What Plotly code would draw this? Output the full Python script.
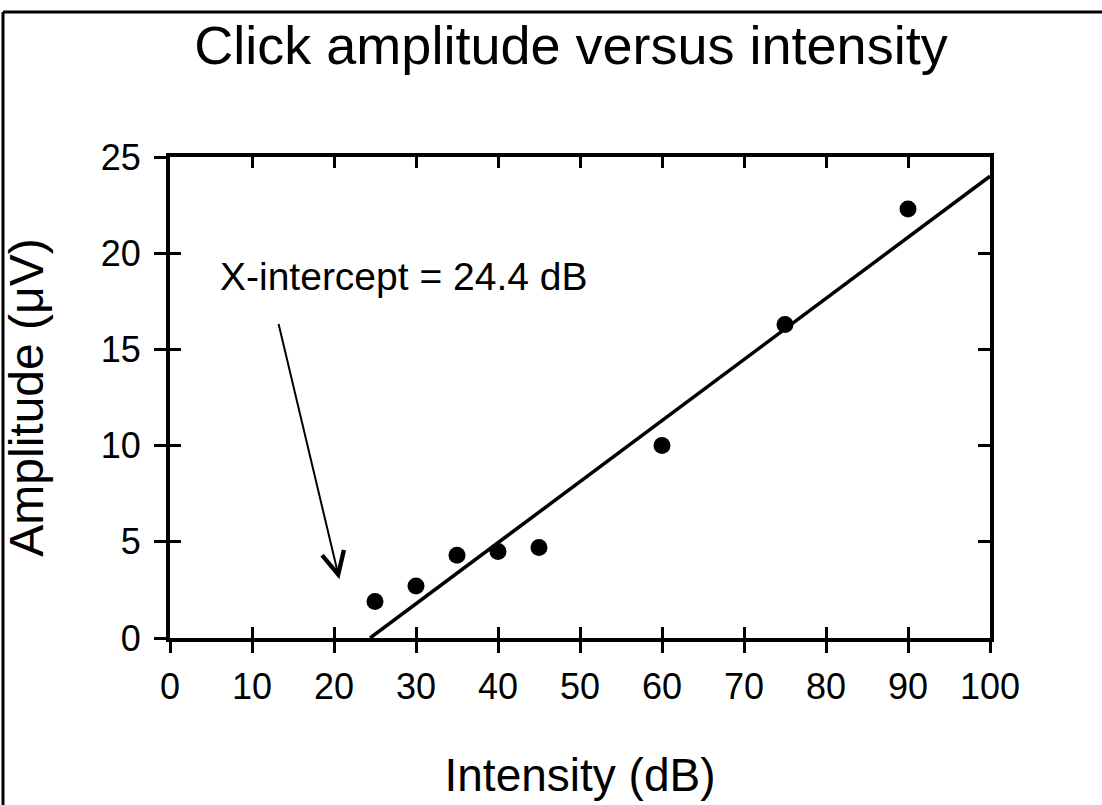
import plotly.graph_objects as go

# Data
intensity_db = [25, 30, 35, 40, 45, 60, 75, 90]
amplitude_uv = [1.9, 2.7, 4.3, 4.5, 4.7, 10.0, 16.3, 22.3]

# Regression line (x-intercept 24.4 dB to right edge)
fit_x = [24.4, 100]
fit_y = [0.0, 24.0]

x_ticks = [0, 10, 20, 30, 40, 50, 60, 70, 80, 90, 100]
y_ticks = [0, 5, 10, 15, 20, 25]

FONT = "Liberation Sans, Arial, sans-serif"
W, H = 1102, 805
L, R, T, B = 170, 112, 157, 167

fig = go.Figure()
fig.add_trace(go.Scatter(x=fit_x, y=fit_y, mode="lines",
                         line=dict(color="black", width=3.5), showlegend=False,
                         cliponaxis=False))
fig.add_trace(go.Scatter(x=intensity_db, y=amplitude_uv, mode="markers",
                         marker=dict(color="black", size=17), showlegend=False))
# empty helper traces so overlaid tick axes are drawn
fig.add_trace(go.Scatter(x=[], y=[], xaxis="x2", yaxis="y2", showlegend=False))
fig.add_trace(go.Scatter(x=[], y=[], xaxis="x3", yaxis="y3", showlegend=False))

axis_common = dict(range=[0, 100], tickvals=x_ticks, showgrid=False, zeroline=False,
                   tickcolor="black", tickwidth=3, linecolor="black", linewidth=4)
yaxis_common = dict(range=[0, 25], tickvals=y_ticks, showgrid=False, zeroline=False,
                    tickcolor="black", tickwidth=3, linecolor="black", linewidth=4)

fig.update_layout(
    width=W, height=H,
    margin=dict(l=L, r=R, t=T, b=B, autoexpand=False),
    paper_bgcolor="white", plot_bgcolor="white",
    font=dict(family=FONT, color="black"),
    title=dict(text="Click amplitude versus intensity", x=571 / W, xanchor="center",
               y=1 - 45 / H, yanchor="middle", font=dict(size=54, family=FONT, color="black")),
    xaxis=dict(**axis_common, side="bottom", ticks="outside", ticklen=11, showline=True,
               tickfont=dict(size=36), ticklabelstandoff=3,
               title=dict(text="Intensity (dB)", font=dict(size=46), standoff=54)),
    xaxis2=dict(**axis_common, overlaying="x", side="bottom", ticks="inside", ticklen=11,
                showline=False, showticklabels=False),
    xaxis3=dict(**axis_common, overlaying="x", side="top", ticks="inside", ticklen=11,
                showline=True, showticklabels=False),
    yaxis=dict(**yaxis_common, side="left", ticks="outside", ticklen=12, showline=True,
               tickfont=dict(size=36), ticklabelstandoff=6,
               title=dict(text="Amplitude (μV)", font=dict(size=48), standoff=45)),
    yaxis2=dict(**yaxis_common, overlaying="y", side="left", ticks="inside", ticklen=11,
                showline=False, showticklabels=False),
    yaxis3=dict(**yaxis_common, overlaying="y", side="right", ticks="inside", ticklen=12,
                showline=True, showticklabels=False),
    showlegend=False,
)

fig.add_annotation(x=28.5, y=18.8, xref="x", yref="y", text="X-intercept = 24.4 dB",
                   showarrow=False, font=dict(size=39, family=FONT, color="black"))
fig.add_annotation(x=20.65, y=3.06, ax=13.2, ay=16.4, xref="x", yref="y",
                   axref="x", ayref="y", text="", showarrow=True,
                   arrowhead=5, arrowsize=2.2, arrowwidth=2, arrowcolor="black")

# page frame: top and left border lines
pw, ph = W - L - R, H - T - B
fig.add_shape(type="line", xref="paper", yref="paper",
              x0=(3 - L) / pw, x1=(W - L) / pw, y0=(H - B - 12) / ph, y1=(H - B - 12) / ph,
              line=dict(color="black", width=3))
fig.add_shape(type="line", xref="paper", yref="paper",
              x0=(3 - L) / pw, x1=(3 - L) / pw, y0=(H - B - 12) / ph, y1=(H - B - H) / ph,
              line=dict(color="black", width=3))

fig.write_html("out.html", config={"displayModeBar": False},
               post_script="document.body.style.margin='0';document.body.style.overflow='hidden';")
